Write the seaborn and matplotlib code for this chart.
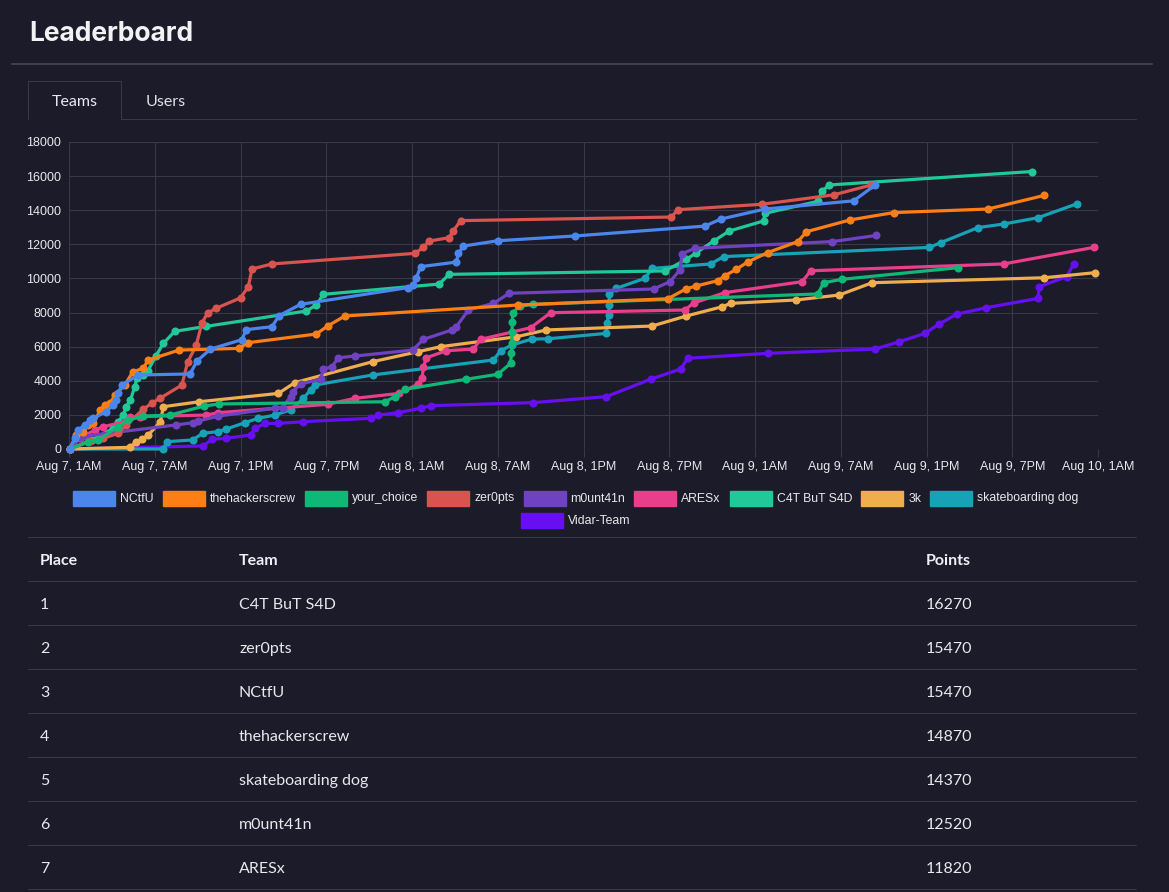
import pandas as pd
import seaborn as sns
import matplotlib
matplotlib.use("Agg")
import matplotlib.pyplot as plt
import matplotlib.dates as mdates
from matplotlib.patches import Rectangle
from matplotlib.lines import Line2D
from matplotlib.ticker import FuncFormatter, MultipleLocator

W, H = 1169, 892
BG = '#1c1b29'
GRID = '#393847'
TXT = '#e8e8ee'

teams = ['NCtfU', 'thehackerscrew', 'your_choice', 'zer0pts', 'm0unt41n',
         'ARESx', 'C4T BuT S4D', '3k', 'skateboarding dog', 'Vidar-Team']
team_colors = ['#4a86ec', '#fd7e14', '#10b877', '#d9534f', '#6f42c1',
               '#e83e8c', '#20c997', '#f0ad4e', '#17a2b8', '#6610f2']

# hours since Aug 7, 1AM and cumulative score
nctfu_hours = [0.05, 0.42, 0.65, 1.1, 1.47, 1.7, 2.6, 3.1, 3.3, 3.45, 3.7, 4.85, 8.47, 8.95, 9.9,
               12.1, 12.4, 14.2, 14.7, 16.2, 23.7, 24.1, 24.3, 24.6, 27.1, 27.25, 27.6, 30.0,
               35.4, 44.5, 45.6, 48.7, 54.9, 56.4]
nctfu_points = [0, 630, 1110, 1410, 1700, 1800, 2190, 2580, 2870, 3260, 3750, 4340, 4400, 5150, 5860,
                6410, 7000, 7170, 7820, 8480, 9460, 9610, 10010, 10690, 10960, 11470, 11900, 12210,
                12490, 13070, 13480, 14070, 14550, 15470]

hackers_hours = [0.05, 0.5, 1.0, 1.35, 1.7, 2.2, 2.5, 2.9, 3.2, 3.9, 4.45, 5.2, 5.55, 7.7, 11.9,
                 12.5, 17.3, 18.1, 19.3, 31.4, 41.9, 43.2, 43.9, 45.4, 45.9, 46.7, 47.5, 48.9,
                 51.0, 51.6, 54.65, 57.7, 64.3, 68.25]
hackers_points = [0, 820, 1010, 1410, 1500, 2290, 2580, 2680, 3170, 3750, 4500, 4750, 5220, 5800, 5900,
                  6230, 6740, 7210, 7800, 8440, 8810, 9400, 9560, 9870, 10160, 10540, 10970, 11520,
                  12160, 12740, 13430, 13860, 14070, 14870]

choice_hours = [0.05, 1.35, 2.05, 3.45, 4.15, 5.2, 7.07, 9.45, 10.5, 22.1, 22.8, 23.5, 27.8, 30.0,
                30.9, 30.95, 30.98, 31.0, 31.02, 31.05, 31.55, 32.5, 52.4, 52.8, 54.1, 62.2]
choice_points = [0, 430, 530, 1310, 1700, 1930, 1990, 2520, 2640, 2770, 3070, 3500, 4090, 4380,
                 5020, 5610, 6200, 6880, 7460, 7990, 8380, 8480, 9090, 9750, 9950, 10630]

zer0pts_hours = [0.05, 1.5, 2.4, 3.45, 4.0, 5.2, 5.8, 6.4, 7.9, 8.3, 8.9, 9.3, 9.7, 10.3, 12.0,
                 12.55, 12.8, 14.2, 24.2, 24.8, 25.2, 26.6, 26.9, 27.4, 42.15, 42.6, 48.5, 53.5, 56.1]
zer0pts_points = [0, 450, 630, 920, 1410, 2330, 2690, 2990, 3750, 5090, 6070, 7390, 7970, 8250, 8860,
                  9520, 10550, 10850, 11470, 11820, 12190, 12390, 12800, 13390, 13600, 14030, 14350,
                  14900, 15470]

mount_hours = [0.05, 0.8, 1.1, 7.5, 8.65, 9.05, 10.45, 14.4, 14.95, 15.5, 15.65, 16.2, 17.6, 17.8,
               18.4, 18.85, 20.0, 24.05, 24.8, 26.8, 27.1, 27.95, 29.7, 30.8, 40.9, 42.05, 42.75,
               42.9, 43.8, 53.4, 56.5]
mount_points = [0, 700, 760, 1410, 1540, 1640, 1930, 2390, 2420, 3070, 3360, 3810, 4090, 4670,
                4830, 5350, 5450, 5800, 6430, 6980, 7170, 8150, 8540, 9130, 9380, 9810, 10500,
                11450, 11770, 12160, 12520]

aresx_hours = [0.05, 0.77, 1.8, 2.4, 3.9, 4.3, 5.0, 9.6, 10.45, 18.1, 20.0, 23.1, 24.4, 24.7, 24.8,
               25.0, 26.4, 28.3, 28.8, 32.3, 33.7, 43.1, 43.7, 45.9, 51.3, 51.9, 65.4, 71.7]
aresx_points = [0, 630, 1110, 1310, 1600, 1860, 1900, 1990, 2130, 2620, 2970, 3260, 3790, 4140, 4790,
                5350, 5760, 5860, 6430, 7110, 7990, 8150, 8560, 9170, 9810, 10450, 10850, 11820]

cat_hours = [0.05, 1.6, 3.1, 3.45, 3.8, 4.0, 4.3, 4.6, 4.75, 5.2, 5.5, 6.1, 6.6, 7.4, 9.6, 16.6,
             17.3, 17.8, 25.9, 26.6, 41.7, 43.2, 43.9, 45.1, 46.2, 48.6, 48.7, 52.4, 52.7, 53.2, 67.4]
cat_points = [0, 530, 1210, 1600, 1990, 2480, 2870, 3650, 4140, 4340, 4560, 5480, 6190, 6900, 7190,
              8090, 8440, 9070, 9670, 10240, 10440, 11120, 11510, 12190, 12780, 13370, 13820,
              14520, 15130, 15480, 16270]

k3_hours = [0.05, 4.3, 4.7, 5.1, 5.55, 6.4, 6.6, 9.1, 14.65, 15.8, 21.25, 24.45, 26.0, 31.3, 33.4,
            40.8, 43.2, 45.7, 46.3, 50.9, 53.9, 56.2, 68.25, 71.8]
k3_points = [0, 100, 430, 570, 820, 1600, 2480, 2770, 3260, 3890, 5120, 5710, 6000, 6580, 6980,
             7210, 7800, 8340, 8540, 8740, 9030, 9750, 10040, 10340]

skate_hours = [0.05, 6.6, 6.85, 8.65, 9.35, 10.45, 11.0, 12.3, 13.25, 14.4, 15.5, 16.4, 16.9, 17.2,
               21.25, 29.7, 30.2, 31.0, 32.4, 33.5, 37.6, 37.65, 37.75, 37.8, 37.8, 38.3, 40.3,
               40.8, 44.9, 45.8, 60.2, 61.0, 63.6, 65.4, 67.8, 70.5]
skate_points = [0, 0, 430, 530, 920, 1020, 1170, 1540, 1800, 1990, 2290, 2970, 3460, 3750,
                4340, 5220, 5760, 6100, 6450, 6460, 6780, 7370, 7860, 8440, 9070, 9420, 10010,
                10590, 10850, 11280, 11820, 12100, 12980, 13190, 13560, 14370]

vidar_hours = [0.05, 9.4, 10.0, 11.0, 12.7, 13.0, 13.7, 14.65, 16.35, 21.1, 21.65, 23.05, 24.6, 25.3,
               32.5, 37.6, 40.7, 42.8, 43.3, 48.9, 56.4, 58.1, 59.9, 60.85, 62.1, 64.15, 67.8,
               67.9, 69.8, 70.3]
vidar_points = [0, 180, 570, 630, 820, 1210, 1500, 1500, 1600, 1800, 1990, 2130, 2390, 2540,
                2720, 3070, 4090, 4690, 5320, 5610, 5860, 6290, 6780, 7310, 7900, 8280, 8830,
                9520, 10100, 10850]

series_hours = [nctfu_hours, hackers_hours, choice_hours, zer0pts_hours, mount_hours,
                aresx_hours, cat_hours, k3_hours, skate_hours, vidar_hours]
series_points = [nctfu_points, hackers_points, choice_points, zer0pts_points, mount_points,
                 aresx_points, cat_points, k3_points, skate_points, vidar_points]

table_places = [1, 2, 3, 4, 5, 6, 7]
table_teams = ['C4T BuT S4D', 'zer0pts', 'NCtfU', 'thehackerscrew', 'skateboarding dog', 'm0unt41n', 'ARESx']
table_points = [16270, 15470, 15470, 14870, 14370, 12520, 11820]

start = pd.Timestamp('2021-08-07 01:00')
frames = []
for name, hrs, pts in zip(teams, series_hours, series_points):
    frames.append(pd.DataFrame({'team': name, 'hours': hrs, 'points': pts}))
df = pd.concat(frames, ignore_index=True)
df['time'] = start + pd.to_timedelta(df['hours'], unit='h')

sns.set_theme(style='dark', rc={'figure.facecolor': BG, 'axes.facecolor': BG})
plt.rcParams['font.family'] = ['Liberation Sans', 'DejaVu Sans']

fig = plt.figure(figsize=(W / 100, H / 100), dpi=100)
fig.patch.set_facecolor(BG)


def fx(x):
    return x / W


def fy(y):
    return 1 - y / H


def hline(x0, x1, y, color=GRID, lw=0.75):
    fig.add_artist(Line2D([fx(x0), fx(x1)], [fy(y), fy(y)], transform=fig.transFigure, color=color, lw=lw))


def vline(x, y0, y1, color=GRID, lw=0.75):
    fig.add_artist(Line2D([fx(x), fx(x)], [fy(y0), fy(y1)], transform=fig.transFigure, color=color, lw=lw))


# header
fig.text(fx(29), fy(34), 'Leaderboard', fontsize=19, fontweight='bold', color='#f2f2f4',
         family=['Inter', 'DejaVu Sans'], va='center', ha='left')
hline(12, 1152, 63.5, color='#403f4c', lw=1.5)

# tabs
vline(28, 81, 119)
hline(28, 121, 81)
vline(121, 81, 119)
hline(121, 1136, 119)
fig.text(fx(75), fy(102.5), 'Teams', fontsize=11.5, color='#e8e8f4', family=['Lato', 'DejaVu Sans'],
         ha='center', va='center')
fig.text(fx(166), fy(102.5), 'Users', fontsize=11.5, color='#e0e0ea', family=['Lato', 'DejaVu Sans'],
         ha='center', va='center')

# chart
ax = fig.add_axes([fx(69), fy(449), (1098 - 69) / W, (449 - 142) / H])
ax.set_facecolor(BG)
sns.lineplot(data=df, x='time', y='points', hue='team', hue_order=teams[::-1],
             palette=dict(zip(teams, team_colors)), estimator=None, sort=False,
             marker='o', markersize=5.8, markeredgewidth=0, linewidth=2.3,
             legend=False, ax=ax)
for ln in ax.lines:
    ln.set_clip_on(False)


def fmt_tick(v, pos):
    d = mdates.num2date(v)
    h = d.hour % 12 or 12
    return f"{d:%b} {d.day}, {h}{'AM' if d.hour < 12 else 'PM'}"


ax.set_xlim(start, start + pd.Timedelta(hours=72))
ax.set_ylim(0, 18000)
ax.xaxis.set_major_locator(mdates.HourLocator(byhour=[1, 7, 13, 19]))
ax.xaxis.set_major_formatter(FuncFormatter(fmt_tick))
ax.yaxis.set_major_locator(MultipleLocator(2000))
ax.grid(True, color=GRID, linewidth=0.8)
ax.set_axisbelow(True)
for s in ax.spines.values():
    s.set_visible(False)
ax.tick_params(axis='x', length=6, width=0.8, color=GRID, pad=3, labelsize=9, labelcolor=TXT, bottom=True)
ax.tick_params(axis='y', length=0, pad=5.5, labelsize=9, labelcolor=TXT, left=True)
ax.set_xlabel('')
ax.set_ylabel('')

# legend, centred rows like the web chart
renderer = fig.canvas.get_renderer()
BOX_W, BOX_H, GAP, SPACING, MAX_W, CENTER = 42, 15, 5, 9, 1060, 576
items = []
for name, col in zip(teams, team_colors):
    t = fig.text(0, 0, name, fontsize=8.8, color=TXT, va='center', ha='left')
    items.append((t, col, t.get_window_extent(renderer).width))
rows, cur, cur_w = [], [], 0
for it in items:
    iw = BOX_W + GAP + it[2]
    add = iw + (SPACING if cur else 0)
    if cur and cur_w + add > MAX_W:
        rows.append((cur, cur_w))
        cur, cur_w, add = [], 0, iw
    cur.append(it)
    cur_w += add
rows.append((cur, cur_w))
for r, (row, rw) in enumerate(rows):
    yc = 498 + r * 22
    x = CENTER - rw / 2
    for t, col, w in row:
        fig.add_artist(Rectangle((fx(x), fy(yc + BOX_H / 2)), BOX_W / W, BOX_H / H,
                                 transform=fig.transFigure, facecolor=col, edgecolor=col, lw=1))
        t.set_position((fx(x + BOX_W + GAP), fy(yc + 0.5)))
        x += BOX_W + GAP + w + SPACING

# table
hline(28, 1136, 536.5)
tf = ['Lato', 'DejaVu Sans']
for x, label in [(40, 'Place'), (239, 'Team'), (926, 'Points')]:
    fig.text(fx(x), fy(561), label, fontsize=11.5, fontweight='bold', color='#f0f0f4',
             family=tf, ha='left', va='center')
hline(28, 1136, 580.5)
for i, (pl, tm, pt) in enumerate(zip(table_places, table_teams, table_points)):
    yc = 605 + i * 44
    fig.text(fx(40), fy(yc), str(pl), fontsize=11.5, color=TXT, family=tf, ha='left', va='center')
    fig.text(fx(239), fy(yc), tm, fontsize=11.5, color=TXT, family=tf, ha='left', va='center')
    fig.text(fx(926), fy(yc), str(pt), fontsize=11.5, color=TXT, family=tf, ha='left', va='center')
    hline(28, 1136, yc - 2 + 21.5)

fig.savefig('out.png', dpi=100, facecolor=BG)
